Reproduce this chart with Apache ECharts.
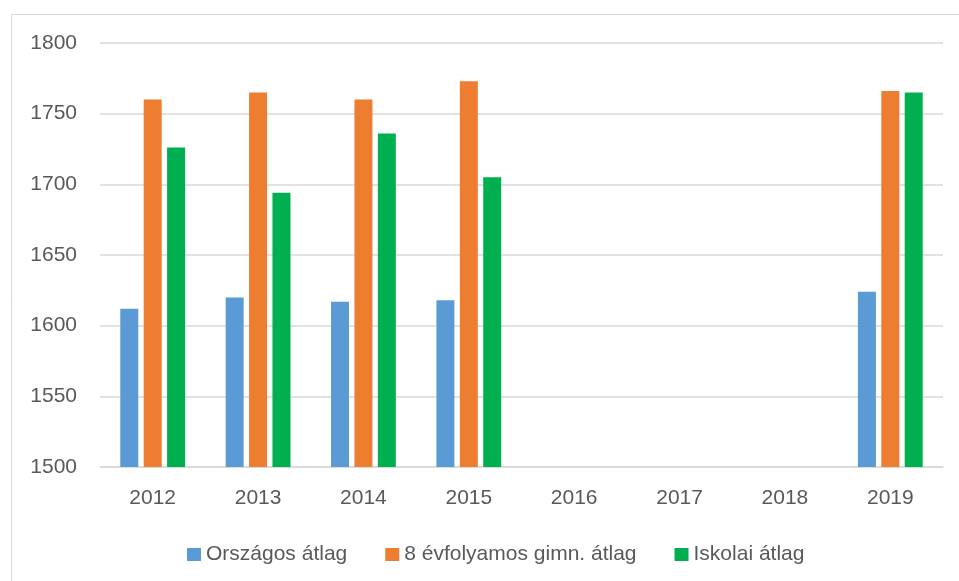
<!DOCTYPE html>
<html>
<head>
<meta charset="utf-8">
<script src="https://cdn.jsdelivr.net/npm/echarts@6/dist/echarts.min.js"></script>
<style>
  html, body { margin: 0; padding: 0; background: #fff; }
  #main { width: 959px; height: 581px; }
</style>
</head>
<body>
<div id="main"></div>
<script>
// adatok
var years = ['2012', '2013', '2014', '2015', '2016', '2017', '2018', '2019'];
var orszagos = [1612, 1620, 1617, 1618, null, null, null, 1624];
var gimn8 = [1760, 1765, 1760, 1773, null, null, null, 1766];
var iskolai = [1726, 1694, 1736, 1705, null, null, null, 1765];

var textColor = '#595959';
var gridColor = '#d9d9d9';
var font = 'Liberation Sans, Arial, sans-serif';

var myChart = echarts.init(document.getElementById('main'));
var option = {
    animation: false,
    graphic: [{
        type: 'rect',
        shape: { x: 11.5, y: 14.5, width: 1000, height: 700 },
        style: { fill: 'none', stroke: gridColor, lineWidth: 1 },
        silent: true
    }],
    grid: { left: 100, right: 16, top: 43, bottom: 114 },
    legend: {
        left: 182,
        top: 539,
        itemWidth: 14,
        itemHeight: 13,
        itemGap: 38,
        icon: 'rect',
        textStyle: { color: textColor, fontSize: 21, fontFamily: font }
    },
    xAxis: {
        type: 'category',
        data: years,
        axisLine: { lineStyle: { color: gridColor, width: 1.5 } },
        axisTick: { show: false },
        axisLabel: { color: textColor, fontSize: 21, fontFamily: font, margin: 21 }
    },
    yAxis: {
        type: 'value',
        min: 1500,
        max: 1800,
        interval: 50,
        axisLine: { show: false },
        axisTick: { show: false },
        splitLine: { lineStyle: { color: gridColor, width: 1.5 } },
        axisLabel: {
            color: textColor, fontSize: 21, fontFamily: font, margin: 23,
            formatter: function (v) { return String(v); }
        }
    },
    series: [
        {
            name: 'Országos átlag',
            type: 'bar',
            data: orszagos,
            barWidth: 18,
            barGap: '30%',
            itemStyle: { color: '#5B9BD5' }
        },
        {
            name: '8 évfolyamos gimn. átlag',
            type: 'bar',
            data: gimn8,
            barWidth: 18,
            barGap: '30%',
            itemStyle: { color: '#ED7D31' }
        },
        {
            name: 'Iskolai átlag',
            type: 'bar',
            data: iskolai,
            barWidth: 18,
            barGap: '30%',
            itemStyle: { color: '#00B050' }
        }
    ]
};
myChart.setOption(option);
</script>
</body>
</html>
